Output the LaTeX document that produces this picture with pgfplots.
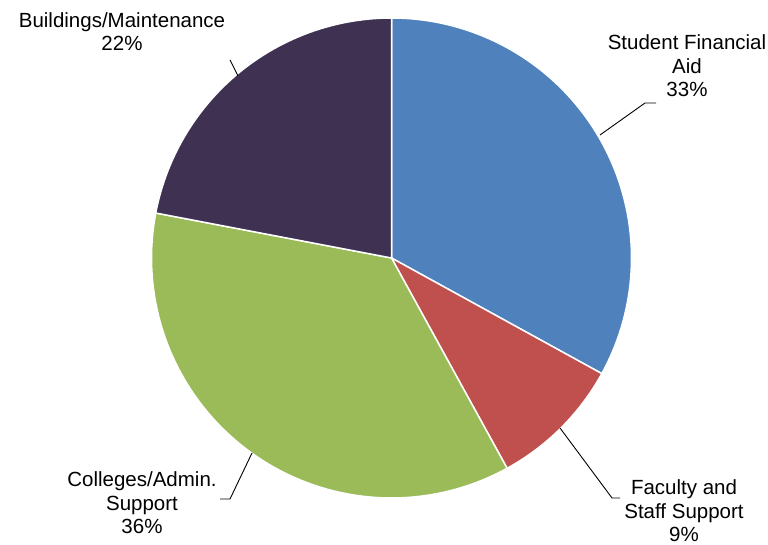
\documentclass[border=0pt]{standalone}
\usepackage{pgfplots}
\pgfplotsset{compat=1.18}
\usepackage{fontspec}
\setmainfont{Liberation Sans}
\definecolor{cA}{HTML}{4F81BD}
\definecolor{cB}{HTML}{C0504D}
\definecolor{cC}{HTML}{9BBB59}
\definecolor{cD}{HTML}{3F3151}
% shares in percent
\def\vA{33}\def\vB{9}\def\vC{36}\def\vD{22}
\pgfmathsetmacro{\aA}{90}
\pgfmathsetmacro{\aB}{\aA-3.6*\vA}
\pgfmathsetmacro{\aC}{\aB-3.6*\vB}
\pgfmathsetmacro{\aD}{\aC-3.6*\vC}
\pgfmathsetmacro{\aE}{\aD-3.6*\vD}
\def\cx{391.5}\def\cy{287}\def\rr{240}
\tikzset{lbl/.style={font=\fontsize{20.5}{23.5}\selectfont, align=center, text=black, inner sep=0pt}}
\begin{document}
\begin{tikzpicture}
\begin{axis}[
  x=1pt, y=1pt,
  xmin=0, xmax=768, ymin=0, ymax=545,
  hide axis, clip=false,
]
\path (rel axis cs:0,0) rectangle (rel axis cs:1,1);
\addplot[fill=cA, draw=white, line width=1.5pt, domain=\aB:\aA, samples=80, variable=\t]
  ({\cx+\rr*cos(\t)},{\cy+\rr*sin(\t)}) -- (axis cs:\cx,\cy) -- cycle;
\addplot[fill=cB, draw=white, line width=1.5pt, domain=\aC:\aB, samples=40, variable=\t]
  ({\cx+\rr*cos(\t)},{\cy+\rr*sin(\t)}) -- (axis cs:\cx,\cy) -- cycle;
\addplot[fill=cC, draw=white, line width=1.5pt, domain=\aD:\aC, samples=80, variable=\t]
  ({\cx+\rr*cos(\t)},{\cy+\rr*sin(\t)}) -- (axis cs:\cx,\cy) -- cycle;
\addplot[fill=cD, draw=white, line width=1.5pt, domain=\aE:\aD, samples=60, variable=\t]
  ({\cx+\rr*cos(\t)},{\cy+\rr*sin(\t)}) -- (axis cs:\cx,\cy) -- cycle;
% leader lines
\addplot[black, line width=0.9pt] coordinates {(600,410) (645,442) (656,442)};
\addplot[black, line width=0.9pt] coordinates {(560,117) (612,47) (620,47)};
\addplot[black, line width=0.9pt] coordinates {(252,92) (230,46) (220,46)};
\addplot[black, line width=0.9pt] coordinates {(238,469) (230,485)};
% labels
\node[lbl] at (axis cs:687,479) {Student Financial\\Aid\\33\%};
\node[lbl] at (axis cs:684,34) {Faculty and\\Staff Support\\9\%};
\node[lbl] at (axis cs:142,42) {Colleges/Admin.\\Support\\36\%};
\node[lbl] at (axis cs:122,513.5) {Buildings/Maintenance\\22\%};
\end{axis}
\end{tikzpicture}
\end{document}
